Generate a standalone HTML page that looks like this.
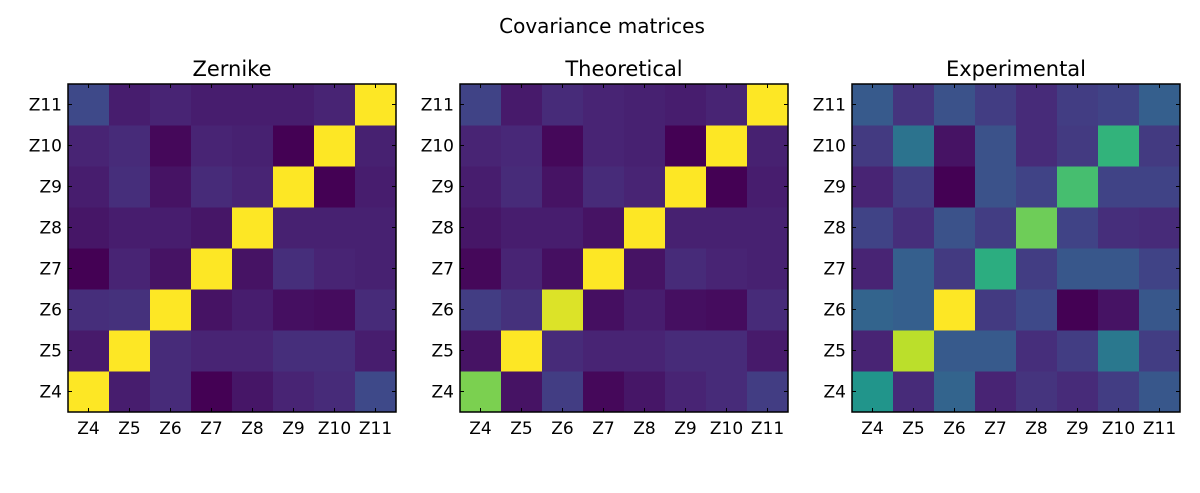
<!DOCTYPE html>
<html><head><meta charset="utf-8"><style>
body{margin:0;background:#fff;width:1200px;height:493px;overflow:hidden}
svg{display:block;font-family:"DejaVu Sans","Liberation Sans",sans-serif}
</style></head><body>
<svg id="fig" width="1200" height="493">
<text x="602" y="33" text-anchor="middle" font-size="20" fill="#000">Covariance matrices</text>
</svg>
<script>
const labels = ["Z4","Z5","Z6","Z7","Z8","Z9","Z10","Z11"];
const titles = ["Zernike","Theoretical","Experimental"];
// rows: Z4..Z11 (bottom to top), columns: Z4..Z11
const zernike = [
[1,0.08,0.12,0.0,0.06,0.1,0.12,0.22],
[0.07,1,0.12,0.1,0.1,0.13,0.13,0.08],
[0.13,0.14,1,0.05,0.08,0.04,0.03,0.12],
[0.0,0.1,0.05,1,0.05,0.13,0.1,0.09],
[0.06,0.08,0.08,0.06,1,0.09,0.09,0.09],
[0.08,0.13,0.05,0.12,0.1,1,0.0,0.08],
[0.1,0.12,0.02,0.1,0.09,0.0,1,0.09],
[0.22,0.08,0.1,0.08,0.08,0.08,0.1,1]];
const theoretical = [
[0.8,0.05,0.18,0.02,0.06,0.1,0.12,0.18],
[0.05,1,0.12,0.1,0.1,0.12,0.12,0.07],
[0.18,0.14,0.95,0.04,0.08,0.04,0.03,0.12],
[0.02,0.1,0.04,1,0.05,0.12,0.1,0.09],
[0.06,0.08,0.08,0.05,1,0.09,0.09,0.09],
[0.08,0.12,0.05,0.12,0.1,1,0.0,0.08],
[0.1,0.11,0.02,0.1,0.09,0.0,1,0.09],
[0.2,0.07,0.12,0.1,0.09,0.08,0.1,1]];
const experimental = [
[0.52,0.12,0.32,0.1,0.15,0.12,0.18,0.27],
[0.1,0.9,0.28,0.28,0.13,0.18,0.4,0.18],
[0.32,0.3,1,0.17,0.22,0.0,0.05,0.27],
[0.1,0.3,0.17,0.62,0.18,0.27,0.27,0.2],
[0.2,0.13,0.25,0.18,0.78,0.2,0.13,0.12],
[0.1,0.18,0.0,0.25,0.2,0.7,0.2,0.2],
[0.17,0.38,0.05,0.25,0.12,0.17,0.65,0.17],
[0.28,0.15,0.25,0.18,0.12,0.18,0.2,0.3]];
const mats = [zernike, theoretical, experimental];

const vir=[[68,1,84],[72,40,120],[62,74,137],[49,104,142],[38,130,142],[31,158,137],[53,183,121],[109,205,89],[180,222,44],[253,231,37]];
function cmap(v){v=Math.max(0,Math.min(1,v));const t=v*9,i=Math.min(8,Math.floor(t)),f=t-i;const a=vir[i],b=vir[i+1];return `rgb(${a.map((c,k)=>Math.round(c+(b[k]-c)*f)).join(',')})`;}
const NS="http://www.w3.org/2000/svg", svgEl=document.getElementById('fig');
function mk(tag,attrs,parent){const e=document.createElementNS(NS,tag);for(const k in attrs)e.setAttribute(k,attrs[k]);(parent||svgEl).appendChild(e);return e;}
const size=328, topY=84, lefts=[68,460,852], n=labels.length, cs=size/n;
function xs(j,L){return L+j*cs;}
function ys(i){return topY+(n-1-i)*cs;}
mats.forEach((m,p)=>{
  const L=lefts[p];
  const g=mk('g',{});
  
  
  const t=mk('text',{x:L+size/2,y:topY-8,'text-anchor':'middle','font-size':21},g);
  
  
  t.textContent=titles[p];
  m.forEach((row,i)=>row.forEach((v,j)=>{
    const r=mk('rect',{x:xs(j,L),y:ys(i),width:cs+0.5,height:cs+0.5,fill:cmap(v)},g);
    
    
  }));
  for(let k=0;k<n;k++){
    const cx=xs(k,L)+cs/2, cy=ys(k)+cs/2;
    mk('line',{x1:cx,x2:cx,y1:topY+size,y2:topY+size-4,stroke:'#000'},g);
    mk('line',{x1:cx,x2:cx,y1:topY,y2:topY+4,stroke:'#000'},g);
    mk('line',{x1:L,x2:L+4,y1:cy,y2:cy,stroke:'#000'},g);
    mk('line',{x1:L+size,x2:L+size-4,y1:cy,y2:cy,stroke:'#000'},g);
    const xl=mk('text',{x:cx,y:topY+size+22,'text-anchor':'middle','font-size':17},g);
    
    
    xl.textContent=labels[k];
    const yl=mk('text',{x:L-6,y:cy+6,'text-anchor':'end','font-size':17},g);
    
    
    yl.textContent=labels[k];
  }
  mk('rect',{x:L,y:topY,width:size,height:size,fill:'none',stroke:'#000','stroke-width':1.5},g);
});
</script>
</body></html>
